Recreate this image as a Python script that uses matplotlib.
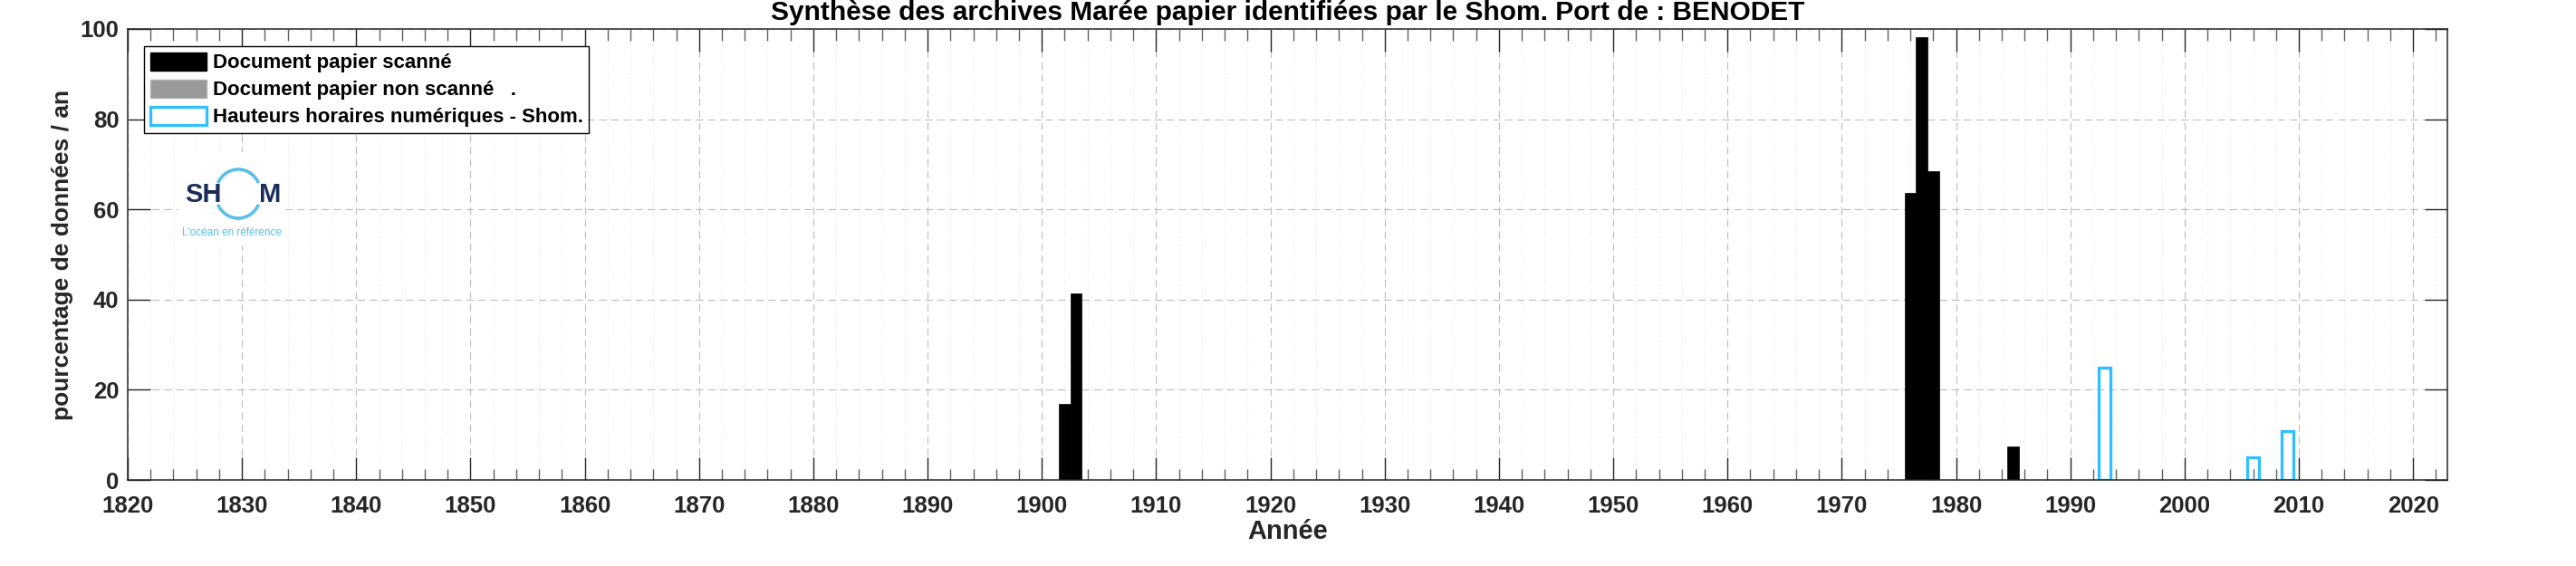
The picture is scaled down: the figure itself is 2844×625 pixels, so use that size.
import numpy as np
import matplotlib
matplotlib.use("Agg")
import matplotlib.pyplot as plt
from matplotlib.patches import Arc, Patch

plt.rcParams['font.family'] = ['Liberation Sans', 'DejaVu Sans']

# Data
years_scan = [1902, 1903, 1976, 1977, 1978, 1985]
pct_scan = [16.8, 41.4, 63.6, 98.2, 68.5, 7.5]
years_nonscan = []
pct_nonscan = []
years_num = [1993, 2006, 2009]
pct_num = [25.0, 5.0, 10.9]

legend_labels = ['Document papier scanné', 'Document papier non scanné   .',
                 'Hauteurs horaires numériques - Shom.']
title = 'Synthèse des archives Marée papier identifiées par le Shom. Port de : BENODET'

dark = '#262626'
blue = '#33BFFF'

fig = plt.figure(figsize=(28.44, 6.25), dpi=100)
ax = fig.add_axes([141 / 2844, 1 - 530 / 625, (2702 - 141) / 2844, (530 - 32) / 625])

ax.bar(years_scan, pct_scan, width=1.0, color='black', edgecolor='black', linewidth=0.5, zorder=2)
ax.bar(years_nonscan, pct_nonscan, width=1.0, color='#999999', zorder=2)
ax.bar(years_num, pct_num, width=1.0, facecolor='none', edgecolor=blue, linewidth=2.4, zorder=2)

ax.set_xlim(1820, 2023)
ax.set_ylim(0, 100)
ax.set_xticks(np.arange(1820, 2021, 10))
ax.set_xticks(np.arange(1820, 2023, 2), minor=True)
ax.set_yticks(np.arange(0, 101, 20))

ax.set_axisbelow(True)
ax.grid(True, which='major', axis='both', color='#bdbdbd', linewidth=0.8, dashes=(7.5, 4.5))
ax.grid(True, which='minor', axis='x', color='#d4d4d4', linewidth=0.7, dashes=(0.6, 2.6))

ax.tick_params(which='major', direction='in', length=18, width=1.0, color=dark,
               top=True, right=True, labelsize=18.5, labelcolor=dark)
ax.tick_params(which='minor', direction='in', length=9, width=1.0, color='#606060',
               top=True, right=False, left=False)
ax.tick_params(axis='x', which='major', pad=12)
ax.tick_params(axis='y', which='major', pad=7)
for lab in ax.get_xticklabels() + ax.get_yticklabels():
    lab.set_fontweight('bold')
for sp in ax.spines.values():
    sp.set_color(dark)
    sp.set_linewidth(1.1)

ax.set_xlabel('Année', fontsize=21, fontweight='bold', color=dark, labelpad=2)
ax.set_ylabel('pourcentage de données / an', fontsize=19, fontweight='bold', color=dark, labelpad=5)
ax.set_title(title, fontsize=21.5, fontweight='bold', color='black', pad=7)

handles = [Patch(facecolor='black', edgecolor='black'),
           Patch(facecolor='#999999', edgecolor='#b0b0b0'),
           Patch(facecolor='white', edgecolor=blue, linewidth=2.4)]
leg = ax.legend(handles, legend_labels, loc='upper left', bbox_to_anchor=(18 / 2561, 1 - 19 / 498),
                borderaxespad=0, prop={'weight': 'bold', 'size': 16},
                frameon=True, fancybox=False, edgecolor='black', framealpha=1,
                handlelength=2.8, handleheight=1.0, handletextpad=0.3,
                labelspacing=0.34, borderpad=0.3)
leg.get_frame().set_linewidth(1.0)

# Shom logo, drawn in pixel units
lax = fig.add_axes([197 / 2844, 1 - 272 / 625, 115 / 2844, 104 / 625])
lax.set_xlim(0, 115)
lax.set_ylim(104, 0)
lax.set_facecolor('white')
lax.set_xticks([])
lax.set_yticks([])
for sp in lax.spines.values():
    sp.set_visible(False)
ring = '#5ABFE6'
lax.add_patch(Arc((66, 46), 50, 54, theta1=28, theta2=152, color=ring, linewidth=2.6))
lax.add_patch(Arc((66, 46), 50, 54, theta1=208, theta2=332, color=ring, linewidth=2.6))
lax.text(7, 47, 'SH', fontsize=21, fontweight='bold', color='#1B2D5B', va='center', ha='left')
lax.text(89, 47, 'M', fontsize=21, fontweight='bold', color='#1B2D5B', va='center', ha='left')
lax.text(59, 89, "L'océan en référence", fontsize=8.5, color='#5ABFE6', va='center', ha='center')

fig.savefig('out.png', dpi=100, facecolor='white')
